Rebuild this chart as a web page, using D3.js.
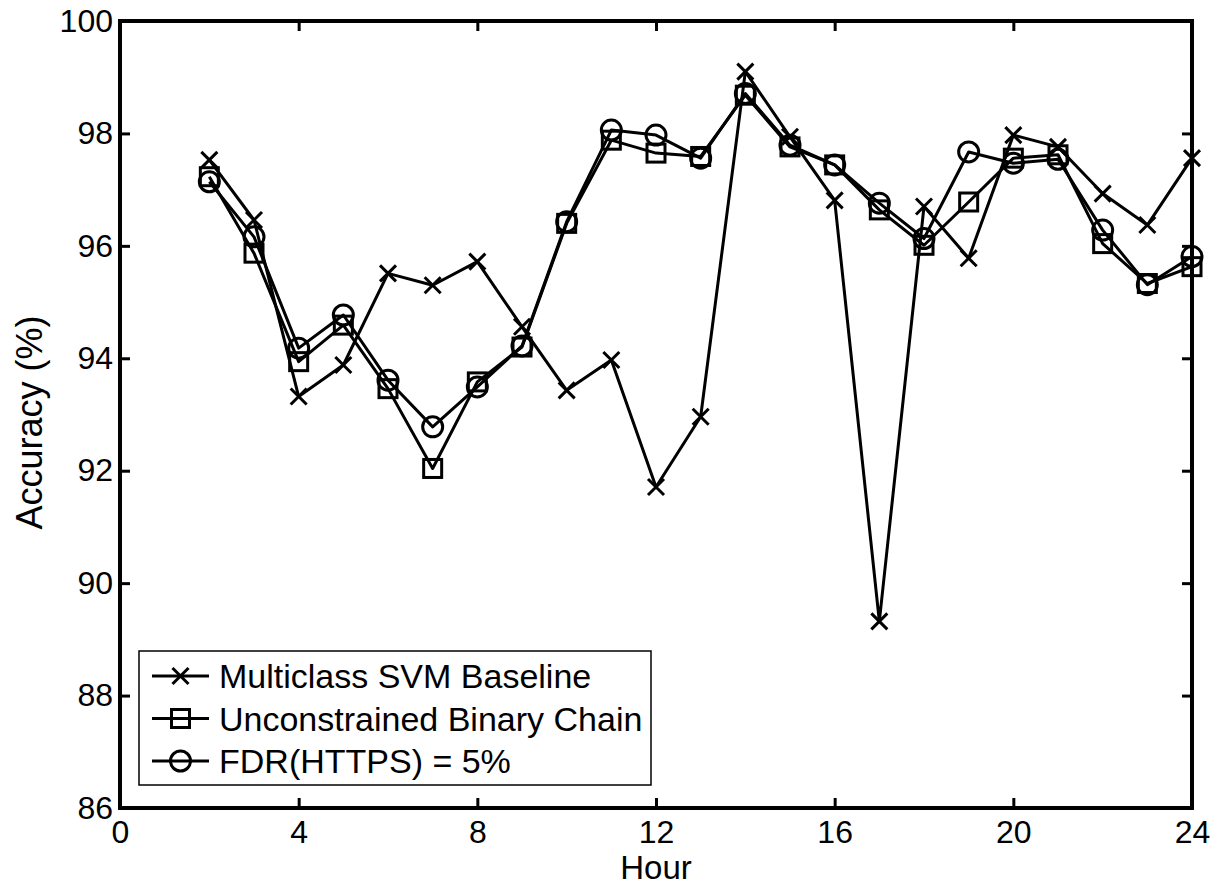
<!DOCTYPE html>
<html>
<head>
<meta charset="utf-8">
<script src="https://cdn.jsdelivr.net/npm/d3@7"></script>
<style>
  body { margin: 0; background: #fff; }
  svg text { font-family: "Liberation Sans", Arial, sans-serif; fill: #000; }
</style>
</head>
<body>
<div id="chart"></div>
<script>
// data
const hours = [2, 3, 4, 5, 6, 7, 8, 9, 10, 11, 12, 13, 14, 15, 16, 17, 18, 19, 20, 21, 22, 23, 24];
const svmBaseline = [97.53, 96.46, 93.32, 93.88, 95.51, 95.30, 95.72, 94.56, 93.43, 93.97, 91.71, 92.96, 99.10, 97.94, 96.81, 89.32, 96.70, 95.78, 97.97, 97.76, 96.93, 96.37, 97.56];
const binaryChain = [97.23, 95.87, 93.94, 94.59, 93.46, 92.04, 93.58, 94.20, 96.40, 97.88, 97.65, 97.59, 98.68, 97.76, 97.44, 96.64, 96.01, 96.78, 97.56, 97.62, 96.04, 95.33, 95.63];
const fdrHttps = [97.14, 96.16, 94.18, 94.77, 93.61, 92.78, 93.49, 94.22, 96.43, 98.06, 97.97, 97.56, 98.71, 97.79, 97.44, 96.76, 96.13, 97.67, 97.47, 97.54, 96.28, 95.31, 95.81];
const seriesNames = ["Multiclass SVM Baseline", "Unconstrained Binary Chain", "FDR(HTTPS) = 5%"];
const markerTypes = ["x", "square", "circle"];
const xTicks = [0, 4, 8, 12, 16, 20, 24];
const yTicks = [86, 88, 90, 92, 94, 96, 98, 100];

const W = 1224, H = 888;
const margin = { top: 21, right: 32, bottom: 80, left: 120 };
const width = W - margin.left - margin.right,
      height = H - margin.top - margin.bottom;

const svg = d3.select("#chart").append("svg")
    .attr("width", W).attr("height", H);
const g = svg.append("g").attr("transform", `translate(${margin.left},${margin.top})`);

const x = d3.scaleLinear().domain([0, 24]).range([0, width]);
const y = d3.scaleLinear().domain([86, 100]).range([height, 0]);

const tickFont = 32;
const tickLen = 10;

// axes (ticks pointing inward, box all round)
const axB = g.append("g").attr("transform", `translate(0,${height})`)
    .call(d3.axisBottom(x).tickValues(xTicks).tickSizeInner(-tickLen).tickSizeOuter(0).tickPadding(12));
const axT = g.append("g")
    .call(d3.axisTop(x).tickValues(xTicks).tickSizeInner(-tickLen).tickSizeOuter(0).tickFormat(""));
const axL = g.append("g")
    .call(d3.axisLeft(y).tickValues(yTicks).tickSizeInner(-tickLen).tickSizeOuter(0).tickPadding(7));
const axR = g.append("g").attr("transform", `translate(${width},0)`)
    .call(d3.axisRight(y).tickValues(yTicks).tickSizeInner(-tickLen).tickSizeOuter(0).tickFormat(""));

[axB, axT, axL, axR].forEach(a => {
    a.select(".domain").remove();
    a.selectAll(".tick line").attr("stroke", "#000").attr("stroke-width", 3);
    a.selectAll(".tick text").style("font-size", tickFont + "px")
        .style("font-family", "'Liberation Sans', Arial, sans-serif").attr("fill", "#000");
});

g.append("rect")
    .attr("x", 0).attr("y", 0).attr("width", width).attr("height", height)
    .attr("fill", "none").attr("stroke", "#000").attr("stroke-width", 4);

// axis labels
svg.append("text")
    .attr("x", margin.left + width / 2).attr("y", 879)
    .attr("text-anchor", "middle")
    .style("font-size", "33px")
    .text("Hour");
svg.append("text")
    .attr("transform", `translate(42,${margin.top + height / 2 + 8}) rotate(-90)`)
    .attr("text-anchor", "middle")
    .style("font-size", "36px")
    .text("Accuracy (%)");

// marker drawing
function drawMarker(sel, type, cx, cy) {
    if (type === "x") {
        const s = 8;
        sel.append("path")
            .attr("d", `M${cx - s},${cy - s}L${cx + s},${cy + s}M${cx - s},${cy + s}L${cx + s},${cy - s}`)
            .attr("stroke", "#000").attr("stroke-width", 3).attr("fill", "none");
    } else if (type === "square") {
        const s = 9;
        sel.append("rect")
            .attr("x", cx - s).attr("y", cy - s).attr("width", 2 * s).attr("height", 2 * s)
            .attr("stroke", "#000").attr("stroke-width", 3).attr("fill", "none");
    } else {
        sel.append("circle")
            .attr("cx", cx).attr("cy", cy).attr("r", 10)
            .attr("stroke", "#000").attr("stroke-width", 3).attr("fill", "none");
    }
}

const allSeries = [svmBaseline, binaryChain, fdrHttps];
const line = d3.line().x(d => x(d[0])).y(d => y(d[1]));

allSeries.forEach((vals, i) => {
    const pts = hours.map((h, k) => [h, vals[k]]);
    const sg = g.append("g").attr("class", "series");
    sg.append("path")
        .datum(pts)
        .attr("d", line)
        .attr("fill", "none")
        .attr("stroke", "#000")
        .attr("stroke-width", 3)
        .attr("stroke-linejoin", "round");
    pts.forEach(p => drawMarker(sg, markerTypes[i], x(p[0]), y(p[1])));
});

// legend
const leg = svg.append("g").attr("class", "legend");
const legX = 139, legY = 651, legW = 512, legH = 134;
leg.append("rect")
    .attr("x", legX).attr("y", legY).attr("width", legW).attr("height", legH)
    .attr("fill", "#fff").attr("stroke", "#000").attr("stroke-width", 1.5);
seriesNames.forEach((name, i) => {
    const cy = 676 + i * 42.5;
    leg.append("line")
        .attr("x1", 152).attr("x2", 209).attr("y1", cy).attr("y2", cy)
        .attr("stroke", "#000").attr("stroke-width", 3);
    drawMarker(leg, markerTypes[i], 180.5, cy);
    leg.append("text")
        .attr("x", 219).attr("y", cy)
        .attr("dy", "0.36em")
        .style("font-size", "34px")
        .text(name);
});
</script>
</body>
</html>
